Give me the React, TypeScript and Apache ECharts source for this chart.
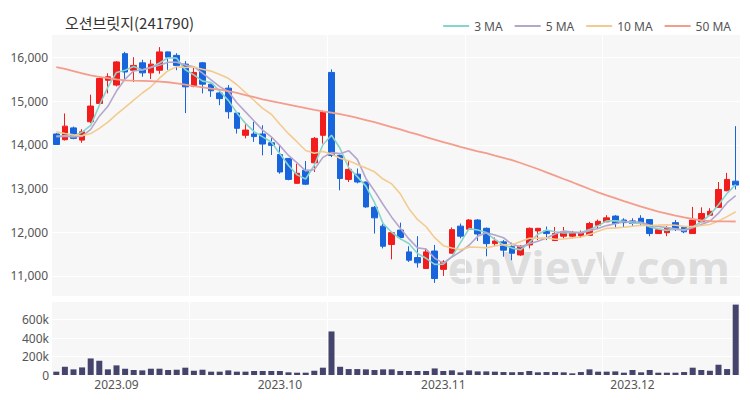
import React, { useEffect, useRef } from 'react';
import * as echarts from 'echarts';

const dates = [
  '2023-08-23','2023-08-24','2023-08-25','2023-08-28','2023-08-29','2023-08-30','2023-08-31',
  '2023-09-01','2023-09-04','2023-09-05','2023-09-06','2023-09-07','2023-09-08','2023-09-11','2023-09-12','2023-09-13','2023-09-14','2023-09-15','2023-09-18','2023-09-19','2023-09-20','2023-09-21','2023-09-22','2023-09-25','2023-09-26','2023-09-27',
  '2023-10-04','2023-10-05','2023-10-06','2023-10-10','2023-10-11','2023-10-12','2023-10-13','2023-10-16','2023-10-17','2023-10-18','2023-10-19','2023-10-20','2023-10-23','2023-10-24','2023-10-25','2023-10-26','2023-10-27','2023-10-30','2023-10-31',
  '2023-11-01','2023-11-02','2023-11-03','2023-11-06','2023-11-07','2023-11-08','2023-11-09','2023-11-10','2023-11-13','2023-11-14','2023-11-15','2023-11-16','2023-11-17','2023-11-20','2023-11-21','2023-11-22','2023-11-23','2023-11-24','2023-11-27','2023-11-28','2023-11-29','2023-11-30',
  '2023-12-01','2023-12-04','2023-12-05','2023-12-06','2023-12-07','2023-12-08','2023-12-11','2023-12-12','2023-12-13','2023-12-14','2023-12-15','2023-12-18','2023-12-19'
];

const opens = [
  14250,14120,14390,14110,14530,14950,15480,15370,16090,15710,
  15880,15650,15710,16130,16050,15850,15340,15880,15390,15190,
  15300,14730,14220,14250,14250,14050,13780,13690,13120,13420,
  13590,14220,15660,13760,13210,13330,13150,12570,12140,11720,
  12050,11550,11420,11170,11570,11150,11520,12140,12070,12280,
  12090,11740,11780,11670,11480,11710,12030,12030,11810,11910,
  11910,11920,11930,12160,12240,12370,12280,12260,12320,12290,
  11970,11990,12220,12110,11970,12240,12390,12570,12950,13170
];
const closes = [
  14010,14430,14150,14300,14890,15520,15560,15900,15670,15820,
  15650,15850,16130,16010,15820,15330,15660,15390,15240,15060,
  14760,14380,14340,14190,14020,13990,13380,13210,13350,13100,
  14150,14760,13760,13230,13440,13150,12580,12330,11680,11990,
  11880,11360,11300,11550,10940,11320,12060,11910,12280,11960,
  11740,11800,11590,11520,11680,12090,12090,11970,11970,12010,
  11990,11990,12200,12250,12330,12200,12220,12200,12200,11970,
  12060,12100,12060,12010,12280,12430,12480,12980,13210,13080
];
const lows = [
  14000,14100,14130,14050,14500,14900,15180,15340,15480,15440,
  15560,15510,15630,15720,15710,14730,15320,15180,15100,14910,
  14600,14260,14150,14070,13760,13770,13340,13190,13110,13080,
  13380,14030,13720,12960,13150,13120,12560,11970,11630,11380,
  11830,11320,11190,11160,10840,11000,11510,11860,12060,11800,
  11450,11680,11440,11360,11460,11630,11820,11820,11800,11860,
  11860,11870,11920,12090,12230,12090,12110,12130,12140,11910,
  11960,11910,12030,11980,11960,12230,12370,12560,12940,12980
];
const highs = [
  14270,14720,14420,14360,15150,15540,15640,15920,16130,16010,
  15950,15950,16240,16140,16100,15920,15780,15900,15400,15240,
  15370,14740,14490,14530,14450,14180,13990,13700,13570,13630,
  14180,14790,15730,13780,13650,13460,13160,12600,12200,12010,
  12220,11680,11910,11630,11710,11360,12110,12200,12300,12300,
  12110,11880,11820,11760,11700,12110,12100,12130,12120,12120,
  12030,12040,12240,12290,12390,12390,12320,12320,12390,12300,
  12070,12140,12280,12140,12580,12570,12550,13150,13360,14430
];
const volumes = [
  36000,89000,61000,82000,179000,154000,61000,104000,68000,54000,
  50000,68000,68000,54000,57000,79000,46000,57000,36000,36000,
  50000,36000,36000,43000,43000,43000,43000,29000,25000,25000,
  46000,79000,471000,89000,64000,64000,61000,54000,61000,61000,
  43000,43000,43000,43000,71000,43000,50000,29000,50000,39000,
  39000,36000,32000,29000,32000,43000,29000,32000,32000,29000,
  18000,32000,61000,36000,36000,39000,25000,54000,29000,54000,
  25000,25000,25000,32000,79000,54000,46000,111000,64000,761000
];

const ma3Lead = [14200, 14210];
const ma5Lead = [14190, 14200, 14180, 14200];
const ma10Lead = [14300, 14260, 14230, 14210, 14260, 14380, 14520, 14700, 14860];
const ma50Lead = [
  15780,15740,15690,15640,15590,15560,15530,15500,15480,15470,
  15465,15460,15450,15435,15410,15380,15345,15320,15290,15265,
  15230,15190,15140,15095,15045,15005,14965,14925,14880,14845,
  14805,14770,14740,14705,14665,14620,14570,14520,14465,14410,
  14355,14295,14240,14180,14120,14065,14010,13955,13905
];

const legendNames = ['3 MA', '5 MA', '10 MA', '50 MA'];
const maColors = ['#86d5cd', '#b5a6cc', '#f3cb90', '#f49d8d'];

function movingAverage(n: number, lead: number[]) {
  return closes.map((_, i) => {
    if (i < n - 1) return lead[i];
    let s = 0;
    for (let k = i - n + 1; k <= i; k++) s += closes[k];
    return Math.round((s / n) * 10) / 10;
  });
}

export default function App() {
  const ref = useRef<HTMLDivElement>(null);
  useEffect(() => {
    const chart = echarts.init(ref.current!, null, { renderer: 'svg' });
    const mas = [
      movingAverage(3, ma3Lead),
      movingAverage(5, ma5Lead),
      movingAverage(10, ma10Lead),
      movingAverage(50, ma50Lead),
    ];
    const font = "'Noto Sans', 'Noto Sans CJK KR', sans-serif";
    const monthStart = (i: number) =>
      i > 0 && dates[i].slice(5, 7) !== dates[i - 1].slice(5, 7);
    const vSplit = {
      show: true,
      interval: (i: number) => i > 0 && i % 16 === 0,
      lineStyle: { color: '#ffffff', width: 1 },
    };
    chart.setOption({
      animation: false,
      backgroundColor: '#ffffff',
      textStyle: { fontFamily: font },
      title: {
        text: '오션브릿지(241790)',
        left: 60,
        top: 10,
        textStyle: { fontSize: 15, fontWeight: 'normal', color: '#333', fontFamily: "'Noto Sans CJK KR', sans-serif" },
      },
      legend: {
        data: legendNames,
        right: 14,
        top: 15,
        icon: 'rect',
        itemWidth: 26,
        itemHeight: 2,
        itemGap: 12,
        textStyle: { fontSize: 12, color: '#555' },
      },
      graphic: [
        {
          type: 'text',
          right: 20,
          top: 245,
          z: 0,
          silent: true,
          style: {
            text: 'enVievV.com',
            fontSize: 44,
            fontWeight: 'bold',
            fontFamily: "'Open Sans', sans-serif",
            fill: 'rgba(195,195,195,0.5)',
          },
        },
      ],
      grid: [
        { left: 52, right: 10, top: 34, height: 262, show: true, backgroundColor: '#f7f7f7', borderWidth: 0 },
        { left: 52, right: 10, top: 301, height: 74, show: true, backgroundColor: '#f7f7f7', borderWidth: 0 },
      ],
      xAxis: [
        {
          type: 'category', gridIndex: 0, data: dates, boundaryGap: true,
          axisLine: { show: false }, axisTick: { show: false }, axisLabel: { show: false },
          splitLine: vSplit,
        },
        {
          type: 'category', gridIndex: 1, data: dates, boundaryGap: true,
          axisLine: { show: false }, axisTick: { show: false },
          axisLabel: {
            interval: (i: number) => monthStart(i),
            formatter: (v: string) => v.slice(0, 7).replace('-', '.'),
            color: '#555', fontSize: 12, margin: 3,
          },
          splitLine: vSplit,
        },
      ],
      yAxis: [
        {
          type: 'value', gridIndex: 0, min: 10540, max: 16540, scale: true,
          axisLine: { show: false }, axisTick: { show: false },
          axisLabel: {
            showMinLabel: false, showMaxLabel: false, color: '#555', fontSize: 12, margin: 4,
            formatter: (v: number) => v.toLocaleString('en-US'),
          },
          splitLine: { lineStyle: { color: '#ffffff', width: 1 } },
        },
        {
          type: 'value', gridIndex: 1, min: 0, max: 800000, interval: 200000,
          axisLine: { show: false }, axisTick: { show: false },
          axisLabel: {
            showMaxLabel: false, color: '#555', fontSize: 12, margin: 3,
            formatter: (v: number) => (v === 0 ? '0' : v / 1000 + 'k'),
          },
          splitLine: { lineStyle: { color: '#ffffff', width: 1 } },
        },
      ],
      series: [
        {
          type: 'candlestick',
          name: 'price',
          xAxisIndex: 0,
          yAxisIndex: 0,
          barWidth: 6,
          data: dates.map((_, i) => [opens[i], closes[i], lows[i], highs[i]]),
          itemStyle: {
            color: '#f21c1c', color0: '#1764dc',
            borderColor: '#f21c1c', borderColor0: '#1764dc', borderWidth: 1,
          },
        },
        ...legendNames.map((name, k) => ({
          type: 'line',
          name,
          xAxisIndex: 0,
          yAxisIndex: 0,
          data: mas[k],
          symbol: 'none',
          smooth: false,
          lineStyle: { color: maColors[k], width: k === 3 ? 1.8 : 1.6 },
          itemStyle: { color: maColors[k] },
          z: 3,
        })),
        {
          type: 'bar',
          name: 'volume',
          xAxisIndex: 1,
          yAxisIndex: 1,
          barWidth: 6,
          data: volumes,
          itemStyle: { color: '#44446c' },
        },
      ],
    });
    return () => chart.dispose();
  }, []);
  return <div ref={ref} style={{ position: 'fixed', left: 0, top: 0, width: 750, height: 400 }} />;
}
